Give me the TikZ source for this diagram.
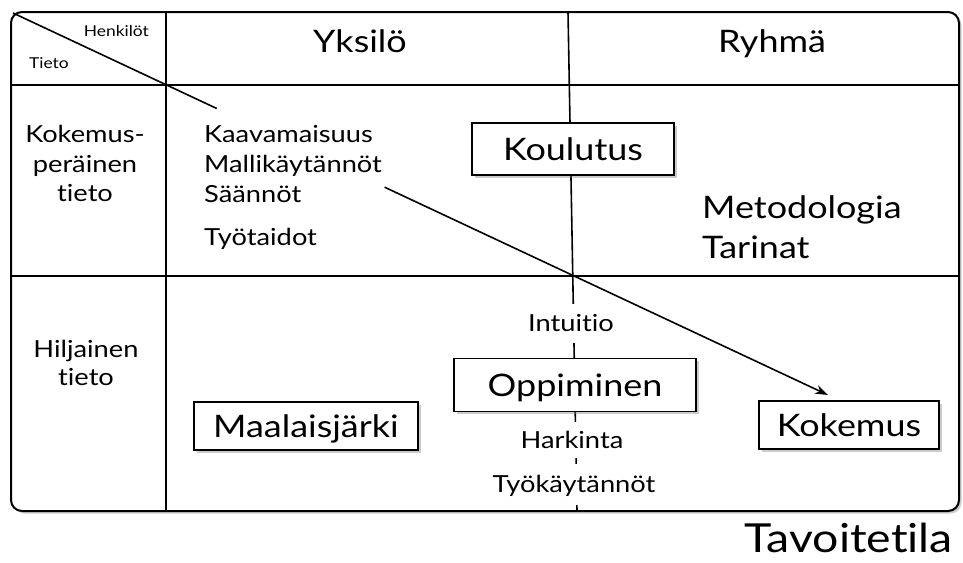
\documentclass[tikz,border=0pt]{standalone}
\usepackage{fontspec}
\setmainfont{Lato}[FakeStretch=1.16, Ligatures={NoCommon}]
\usetikzlibrary{arrows.meta,shadows,calc}
\newcommand{\fs}[1]{\fontsize{#1}{#1}\selectfont}
\tikzset{
  gridline/.style={line width=1.6pt, black},
  frameline/.style={line width=2pt, black, rounded corners=11pt},
  boxshadow/.style={drop shadow={shadow xshift=2.5pt, shadow yshift=-2.5pt, opacity=0.4}},
  labelbox/.style={draw, line width=1.6pt, fill=white, inner sep=0pt, boxshadow,
    font=\fs{31}, text height=22.2pt, text depth=0pt},
  cell/.style={inner sep=0pt, font=\fs{23.5}},
  bigcell/.style={inner sep=0pt, font=\fs{31}},
  tinycell/.style={inner sep=0pt, font=\fs{15}},
  gap/.style={fill=white, inner xsep=3pt, inner ysep=11pt, font=\fs{23.5},
    text height=16.8pt, text depth=0pt},
}
\begin{document}
\begin{tikzpicture}[x=1pt, y=-1pt]
\useasboundingbox (0,0) rectangle (963,562);
% grid coordinates
\coordinate (tl) at (11,12);
\coordinate (br) at (959,511);
\coordinate (c1t) at (166,12);
\coordinate (c1b) at (166,511);
\coordinate (c2t) at (568,12);
\coordinate (c2b) at (577,511);
\coordinate (r1l) at (11,85);
\coordinate (r1r) at (959,85);
\coordinate (r2l) at (11,276);
\coordinate (r2r) at (959,276);
\coordinate (dstart) at (13,13);
\coordinate (tip) at (828,395);
% frame and rules
\path[fill=white, rounded corners=11pt, boxshadow] (tl) rectangle (br);
\draw[gridline] (c1t) -- (c1b);
\draw[gridline] (r1l) -- (r1r);
\draw[gridline] (r2l) -- (r2r);
\draw[gridline] (c2t) -- (c2b);
\draw[frameline] (tl) rectangle (br);
% diagonal arrow, broken around the list of rules
\draw[gridline] (dstart) -- ($(dstart)!0.250!(tip)$);
\draw[gridline, -{Stealth[length=13pt, width=9pt]}] ($(dstart)!0.456!(tip)$) -- (tip);
% header
\node[tinycell, anchor=base east] (henk) at (149,36) {Henkilöt};
\node[tinycell, anchor=base west] (tieto) at (29,68) {Tieto};
\node[bigcell, anchor=base] (yksilo) at (360,52) {Yksilö};
\node[bigcell, anchor=base] (ryhma) at (772,52) {Ryhmä};
% row labels
\node[cell, anchor=base] (koke1) at (85,142) {Kokemus-};
\node[cell, anchor=base] (koke2) at (85,172) {peräinen};
\node[cell, anchor=base] (koke3) at (85,201) {tieto};
\node[cell, anchor=base] (hilj1) at (86,357) {Hiljainen};
\node[cell, anchor=base] (hilj2) at (86,385) {tieto};
% experience-based knowledge
\node[cell, anchor=base west] (kaava) at (204,142) {Kaavamaisuus};
\node[cell, anchor=base west] (malli) at (204,172) {Mallikäytännöt};
\node[cell, anchor=base west] (saan) at (204,202) {Säännöt};
\node[cell, anchor=base west] (tyot) at (204,245) {Työtaidot};
\node[bigcell, anchor=base west] (meto) at (702,218) {Metodologia};
\node[bigcell, anchor=base west] (tari) at (702,258) {Tarinat};
% boxes
\node[labelbox, minimum width=202pt, minimum height=52pt] (koul) at (573,149) {Koulutus};
\node[labelbox, minimum width=242pt, minimum height=53pt] (oppi) at (575,385) {Oppiminen};
\node[labelbox, minimum width=224pt, minimum height=48pt] (maal) at (306,426) {Maalaisjärki};
\node[labelbox, minimum width=180pt, minimum height=48pt] (kokem) at (849,425) {Kokemus};
% tacit knowledge along the middle rule
\node[gap] (intu) at (571,323.5) {Intuitio};
\node[gap, inner ysep=9.6pt] (hark) at (572,440) {Harkinta};
\node[gap, inner ysep=12pt] (tyok) at (574,484.5) {Työkäytännöt};
% target state
\node[inner sep=0pt, font=\fs{40}, anchor=base east] (tavo) at (953,552) {Tavoitetila};
\end{tikzpicture}
\end{document}
